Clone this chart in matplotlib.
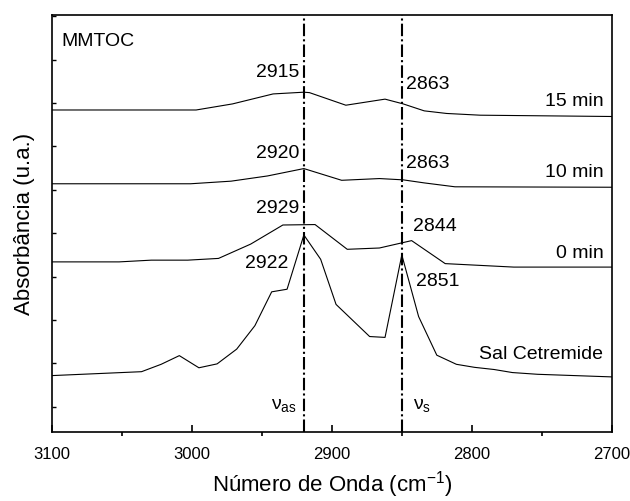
import matplotlib.pyplot as plt

plt.rcParams['font.family'] = ['Liberation Sans', 'DejaVu Sans']
plt.rcParams['mathtext.fontset'] = 'custom'
plt.rcParams['mathtext.rm'] = 'Liberation Sans'
plt.rcParams['mathtext.it'] = 'Liberation Sans'
plt.rcParams['mathtext.default'] = 'regular'

# espectros (unidades arbitrarias, ya desplazados)
wn_15 = [3100, 2997, 2971, 2942, 2920, 2916, 2890, 2862, 2849, 2834, 2818, 2794, 2700]
ab_15 = [7.42, 7.42, 7.56, 7.79, 7.83, 7.82, 7.53, 7.67, 7.56, 7.40, 7.34, 7.30, 7.27]

wn_10 = [3100, 3001, 2972, 2946, 2920, 2893, 2866, 2849, 2834, 2812, 2700]
ab_10 = [5.72, 5.72, 5.78, 5.90, 6.07, 5.80, 5.84, 5.81, 5.74, 5.65, 5.64]

wn_0 = [3100, 3052, 3029, 3003, 2981, 2958, 2935, 2912, 2889, 2866, 2843, 2819, 2770, 2700]
ab_0 = [3.92, 3.92, 3.96, 3.96, 4.00, 4.33, 4.77, 4.78, 4.21, 4.24, 4.41, 3.88, 3.80, 3.80]

wn_sal = [3100, 3036, 3022, 3009, 2995, 2982, 2968, 2955, 2943, 2932, 2920, 2908,
          2897, 2873, 2862, 2850, 2838, 2825, 2811, 2798, 2784, 2771, 2753, 2700]
ab_sal = [1.30, 1.39, 1.56, 1.76, 1.48, 1.57, 1.91, 2.45, 3.23, 3.29, 4.54, 3.98,
          2.94, 2.20, 2.18, 4.08, 2.66, 1.77, 1.56, 1.49, 1.44, 1.37, 1.33, 1.27]

bandas = [2920, 2850]

fig = plt.figure(figsize=(6.3, 5.01), dpi=100)
ax = fig.add_axes([0.0825, 0.1377, 0.8885, 0.8323])

for wn, ab in [(wn_15, ab_15), (wn_10, ab_10), (wn_0, ab_0), (wn_sal, ab_sal)]:
    ax.plot(wn, ab, color='black', lw=0.8)

for b in bandas:
    ax.axvline(b, color='black', lw=1.5, ls=(0, (6, 1.5, 1, 1.5)))

fs = 14
ax.text(3093, 8.99, 'MMTOC', fontsize=fs, va='center', ha='left')
ax.text(2923, 8.28, '2915', fontsize=fs, va='center', ha='right')
ax.text(2847, 8.00, '2863', fontsize=fs, va='center', ha='left')
ax.text(2706, 7.61, '15 min', fontsize=fs, va='center', ha='right')
ax.text(2923, 6.41, '2920', fontsize=fs, va='center', ha='right')
ax.text(2847, 6.19, '2863', fontsize=fs, va='center', ha='left')
ax.text(2706, 5.98, '10 min', fontsize=fs, va='center', ha='right')
ax.text(2923, 5.15, '2929', fontsize=fs, va='center', ha='right')
ax.text(2842, 4.73, '2844', fontsize=fs, va='center', ha='left')
ax.text(2706, 4.12, '0 min', fontsize=fs, va='center', ha='right')
ax.text(2931, 3.89, '2922', fontsize=fs, va='center', ha='right')
ax.text(2840, 3.46, '2851', fontsize=fs, va='center', ha='left')
ax.text(2706, 1.79, 'Sal Cetremide', fontsize=fs, va='center', ha='right')
ax.text(2925, 0.62, r'$\nu_{as}$', fontsize=fs, va='center', ha='right')
ax.text(2842, 0.62, r'$\nu_{s}$', fontsize=fs, va='center', ha='left')

ax.set_xlim(3100, 2700)
ax.set_ylim(0, 9.608)
ax.set_xticks([3100, 3000, 2900, 2800, 2700])
ax.set_xticks([3050, 2950, 2850, 2750], minor=True)
ax.set_yticks([0.583 + i for i in range(10)])
ax.set_yticklabels([])
ax.tick_params(axis='both', direction='in', labelsize=12)
ax.tick_params(axis='x', which='major', length=5, width=1.2, pad=11)
ax.tick_params(axis='x', which='minor', length=3, width=1.2)
ax.tick_params(axis='y', length=3, width=1)
for s in ax.spines.values():
    s.set_linewidth(1.2)

ax.set_xlabel('Número de Onda (cm$^{-1}$)', fontsize=16, labelpad=5)
ax.set_ylabel('Absorbância (u.a.)', fontsize=16, labelpad=9)

fig.savefig('out.png', dpi=100)
